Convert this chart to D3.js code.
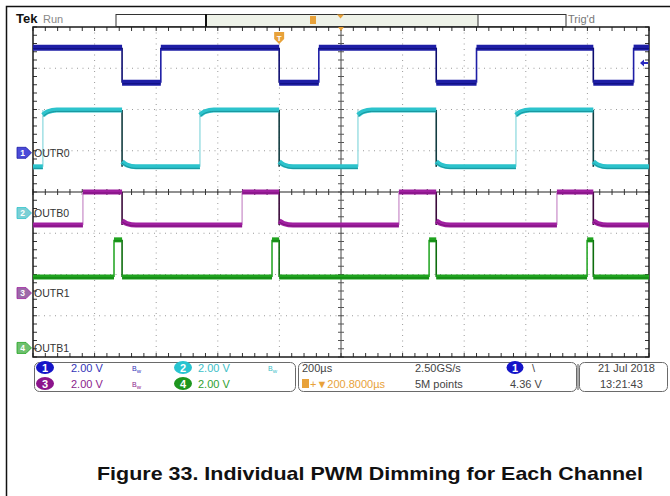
<!DOCTYPE html>
<html><head><meta charset="utf-8">
<script src="https://cdn.jsdelivr.net/npm/d3@7"></script>
<style>body{margin:0;background:#fff}svg{display:block}</style>
</head><body><svg id="c" width="670" height="496"></svg>
<script>
// ---- data ----
const timeTicks = [-1000,-800,-600,-400,-200,0,200,400,600,800,1000]; // µs (200 µs/div)
const divTicks = [-4,-3,-2,-1,0,1,2,3,4];
const channels = ["OUTR0","OUTB0","OUTR1","OUTB1"];
const chNumbers = ["1","2","3","4"];
const voltsPerDiv = [2,2,2,2];
const groundDiv = [0.95,-0.51,-2.45,-3.78];
const highV = [5.1,5.0,4.9,5.24];
const lowV = [3.4,2.24,3.3,3.44];
const startHigh = [true,false,false,false];
const riseSettleV = [0,-0.25,0,0];
const fallSettleV = [0,0.25,0.2,0];
const ch1Fall = [-710.8,-200.8,309.2,819.2];
const ch1Rise = [-585,-72,440,950];
const ch2Rise = [-968,-458,55,568];
const ch3Rise = [-838,-321,188,701];
const ch4Rise = [-737,-224,286,799];
const rises = [ch1Rise,ch2Rise,ch3Rise,ch4Rise];
const falls = [ch1Fall,ch1Fall,ch1Fall,ch1Fall];
const trigTime = -200.8, trigLevelV = 4.36;
const scaleLabels = ["2.00 V","2.00 V","2.00 V","2.00 V"];

// ---- styles ----
const bandCol = ["#1e1ea6","#2cc3cc","#a01fa0","#1fa31f"];
const coreCol = ["#0c0c70","#137f86","#6a0a6a","#0d6d0d"];
const riseCol = ["#1e1ea6","#a6e2e6","#d6a8d6","#2aa82a"];
const fallCol = ["#0c0c70","#123c40","#3a0a3a","#0d6d0d"];
const markFill = ["#4b4bd8","#7ccfd5","#9c6aa8","#6fc06f"];
const textCol = ["#3434b8","#3cc0c8","#8c1c8c","#2f9f2f"];
const ovalCol = ["#1414c8","#28c4d0","#8c148c","#1e961e"];

const svg = d3.select("#c");
const X0=33, X1=649, Y0=27, Y1=357;
const x = d3.scaleLinear().domain([-1000,1000]).range([X0,X1]);
const y = d3.scaleLinear().domain([-4,4]).range([Y1,Y0]);
const font = "'Liberation Sans', Arial, sans-serif";

// outer frame
svg.append("path").attr("d","M6.5,496V6.5H670").attr("fill","none").attr("stroke","#111").attr("stroke-width",1.5);

// ---- grid ----
const grid = svg.append("g");
timeTicks.slice(1,-1).filter(t=>t!==0).forEach(t=>{
  grid.append("line").attr("x1",x(t)).attr("x2",x(t)).attr("y1",Y0).attr("y2",Y1)
    .attr("stroke","#9a9a9a").attr("stroke-width",1).attr("stroke-dasharray","1,4.5");
});
divTicks.slice(1,-1).filter(d=>d!==0).forEach(d=>{
  grid.append("line").attr("x1",X0).attr("x2",X1).attr("y1",y(d)).attr("y2",y(d))
    .attr("stroke","#9a9a9a").attr("stroke-width",1).attr("stroke-dasharray","1,4.5");
});
grid.append("line").attr("x1",X0).attr("x2",X1).attr("y1",y(0)).attr("y2",y(0)).attr("stroke","#222").attr("stroke-width",1.2);
grid.append("line").attr("x1",x(0)).attr("x2",x(0)).attr("y1",Y0).attr("y2",Y1).attr("stroke","#444").attr("stroke-width",1);
const minorT = d3.range(-1000,1000.1,40);
const minorD = d3.range(-4,4.01,0.2);
minorT.forEach(t=>{
  const xx=x(t);
  grid.append("line").attr("x1",xx).attr("x2",xx).attr("y1",y(0)-3).attr("y2",y(0)+3).attr("stroke","#333");
  grid.append("line").attr("x1",xx).attr("x2",xx).attr("y1",Y0).attr("y2",Y0+4).attr("stroke","#333");
  grid.append("line").attr("x1",xx).attr("x2",xx).attr("y1",Y1-4).attr("y2",Y1).attr("stroke","#333");
});
minorD.forEach(d=>{
  const yy=y(d);
  grid.append("line").attr("x1",x(0)-3).attr("x2",x(0)+3).attr("y1",yy).attr("y2",yy).attr("stroke","#555");
  grid.append("line").attr("x1",X0).attr("x2",X0+4).attr("y1",yy).attr("y2",yy).attr("stroke","#333");
  grid.append("line").attr("x1",X1-4).attr("x2",X1).attr("y1",yy).attr("y2",yy).attr("stroke","#333");
});
grid.append("rect").attr("x",X0).attr("y",Y0).attr("width",X1-X0).attr("height",Y1-Y0)
  .attr("fill","none").attr("stroke","#1a1a1a").attr("stroke-width",1.5);

// ---- waveforms ----
const wf = svg.append("g");
const toDiv = (i,v)=> groundDiv[i] + v/voltsPerDiv[i];
const line = d3.line().x(d=>x(d[0])).y(d=>y(d[1])).curve(d3.curveMonotoneX);
channels.forEach((name,i)=>{
  const edges = rises[i].map(t=>({t,hi:true})).concat(falls[i].map(t=>({t,hi:false}))).sort((a,b)=>a.t-b.t);
  const segs=[]; let cur=startHigh[i], t0=-1000, settle=0;
  edges.forEach(e=>{
    if(e.t<=-1000||e.t>=1000) return;
    segs.push({t0,t1:e.t,hi:cur,settle});
    cur=e.hi; t0=e.t; settle = e.hi?riseSettleV[i]:fallSettleV[i];
  });
  segs.push({t0,t1:1000,hi:cur,settle});
  const lv = hi => hi?highV[i]:lowV[i];
  edges.forEach(e=>{
    if(e.t<=-1000||e.t>=1000) return;
    wf.append("line").attr("x1",x(e.t)).attr("x2",x(e.t))
      .attr("y1",y(toDiv(i,highV[i]))).attr("y2",y(toDiv(i,lowV[i])))
      .attr("stroke",e.hi?riseCol[i]:fallCol[i]).attr("stroke-width",1.6);
  });
  segs.forEach(s=>{
    const v=lv(s.hi);
    let pts;
    const dt=Math.min(45,(s.t1-s.t0)/2);
    if(s.settle!==0) pts=[[s.t0,toDiv(i,v+s.settle)],[s.t0+dt*0.35,toDiv(i,v+s.settle*0.35)],[s.t0+dt,toDiv(i,v)],[s.t1,toDiv(i,v)]];
    else pts=[[s.t0,toDiv(i,v)],[s.t1,toDiv(i,v)]];
    wf.append("path").attr("d",line(pts)).attr("fill","none").attr("stroke",bandCol[i])
      .attr("stroke-width",i===0?6:5);
    wf.append("path").attr("d",line(pts)).attr("fill","none").attr("stroke",coreCol[i])
      .attr("stroke-width",1).attr("transform",`translate(0,${i===1?1.5:1})`).attr("opacity",0.7);
  });
  const yg=y(groundDiv[i]);
  svg.append("path").attr("d",`M17,${yg-5.5}H26L31.5,${yg}L26,${yg+5.5}H17Z`)
    .attr("fill",markFill[i]).attr("stroke",bandCol[i]).attr("stroke-width",0.8);
  svg.append("text").attr("x",22.5).attr("y",yg+3.2).attr("text-anchor","middle")
    .attr("font-family",font).attr("font-size",8.5).attr("font-weight","bold").attr("fill","#fff").text(chNumbers[i]);
  svg.append("text").attr("x",34).attr("y",yg+4).attr("font-family",font).attr("font-size",10.5)
    .attr("fill","#333").text(name);
});

// trigger level arrow (ch1)
const yTrig = y(toDiv(0,trigLevelV));
svg.append("path").attr("d",`M640,${yTrig}l4,-3.5v2.5h4v2h-4v2.5z`).attr("fill","#2a2ac0");

// trigger position marker
const xT = x(trigTime);
svg.append("path").attr("d",`M${xT-5},${Y0+5}h10v7l-5,5l-5,-5z`).attr("fill","#e8a23a");
svg.append("text").attr("x",xT).attr("y",Y0+14).attr("text-anchor","middle").attr("font-family",font)
  .attr("font-size",8).attr("font-weight","bold").attr("fill","#fff").text("T");
svg.append("path").attr("d",`M${x(0)-3},${Y0}h6l-3,4z`).attr("fill","#e8a23a");

// ---- top bar ----
svg.append("text").attr("x",16).attr("y",23).attr("font-family",font).attr("font-size",13)
  .attr("font-weight","bold").attr("fill","#111").text("Tek");
svg.append("text").attr("x",43).attr("y",23).attr("font-family",font).attr("font-size",11)
  .attr("fill","#888").text("Run");
svg.append("rect").attr("x",116).attr("y",14.5).attr("width",450).attr("height",12).attr("fill","#fff").attr("stroke","#333");
svg.append("rect").attr("x",206).attr("y",15).attr("width",272).attr("height",11).attr("fill","#eef2e8");
svg.append("line").attr("x1",206).attr("x2",206).attr("y1",14).attr("y2",27).attr("stroke","#111").attr("stroke-width",2);
svg.append("line").attr("x1",478).attr("x2",478).attr("y1",14).attr("y2",27).attr("stroke","#333").attr("stroke-width",1);
svg.append("rect").attr("x",310).attr("y",16).attr("width",6).attr("height",8).attr("fill","#e8a23a");
svg.append("path").attr("d",`M${337},14.5h7l-3.5,4z`).attr("fill","#e8a23a");
svg.append("text").attr("x",568).attr("y",23).attr("font-family",font).attr("font-size",11)
  .attr("fill","#777").text("Trig'd");

// ---- status bar ----
const sb = svg.append("g").attr("font-family",font).attr("font-size",11);
[[34,296],[298,577],[579,668]].forEach(([a,b])=>{
  sb.append("rect").attr("x",a+0.5).attr("y",362.5).attr("width",b-a-1).attr("height",29).attr("rx",5)
    .attr("fill","#fff").attr("stroke","#6a6a6a");
});
sb.append("line").attr("x1",578).attr("x2",578).attr("y1",364).attr("y2",390).attr("stroke","#aaa").attr("stroke-width",2);
const rowY=[372,388];
const ovals=[[45,0,0],[183,0,1],[45,1,2],[183,1,3]];
ovals.forEach(([cx,r,i])=>{
  sb.append("ellipse").attr("cx",cx).attr("cy",rowY[r]-4.5).attr("rx",9).attr("ry",6.5).attr("fill",ovalCol[i]);
  sb.append("text").attr("x",cx).attr("y",rowY[r]-0.5).attr("text-anchor","middle").attr("font-weight","bold")
    .attr("fill","#fff").attr("font-size",11).text(chNumbers[i]);
  sb.append("text").attr("x",cx===45?71:198).attr("y",rowY[r]).attr("fill",textCol[i]).text(scaleLabels[i]);
});
[[132,0,0],[132,1,2],[268,0,1]].forEach(([bx,r,i])=>{
  const t = sb.append("text").attr("x",bx).attr("y",rowY[r]-1).attr("font-size",7).attr("fill",textCol[i]);
  t.append("tspan").text("B");
  t.append("tspan").attr("dy",2).attr("font-size",6).text("w");
});
sb.append("text").attr("x",302).attr("y",rowY[0]).attr("fill","#444").text("200µs");
sb.append("rect").attr("x",302).attr("y",rowY[1]-9).attr("width",7).attr("height",9).attr("fill","#e8a23a");
sb.append("text").attr("x",310).attr("y",rowY[1]).attr("fill","#e8a23a").text("+▼200.8000µs");
sb.append("text").attr("x",415).attr("y",rowY[0]).attr("fill","#444").text("2.50GS/s");
sb.append("text").attr("x",415).attr("y",rowY[1]).attr("fill","#444").text("5M points");
sb.append("ellipse").attr("cx",515).attr("cy",rowY[0]-4.5).attr("rx",8.5).attr("ry",6.5).attr("fill","#1414c8");
sb.append("text").attr("x",515).attr("y",rowY[0]-0.5).attr("text-anchor","middle").attr("font-weight","bold").attr("fill","#fff").text("1");
sb.append("text").attr("x",532).attr("y",rowY[0]).attr("fill","#444").text("\\");
sb.append("text").attr("x",510).attr("y",rowY[1]).attr("fill","#444").text("4.36 V");
sb.append("text").attr("x",598).attr("y",rowY[0]).attr("fill","#444").text("21 Jul  2018");
sb.append("text").attr("x",600).attr("y",rowY[1]).attr("fill","#444").text("13:21:43");

// ---- caption ----
svg.append("text").attr("x",370).attr("y",480).attr("text-anchor","middle")
  .attr("font-family",font).attr("font-weight","bold").attr("font-size",19)
  .attr("textLength",546).attr("lengthAdjust","spacingAndGlyphs").attr("fill","#111")
  .text("Figure 33. Individual PWM Dimming for Each Channel");
</script></body></html>
